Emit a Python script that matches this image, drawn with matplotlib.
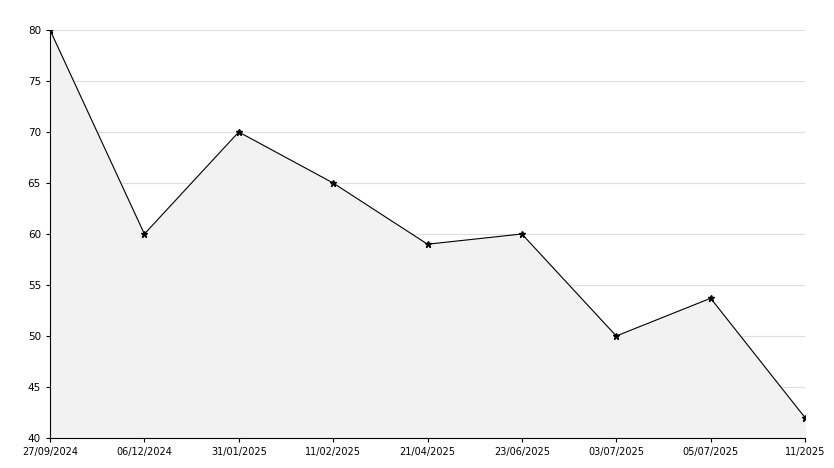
import matplotlib
matplotlib.use("Agg")
import matplotlib.pyplot as plt

dates = ["27/09/2024", "06/12/2024", "31/01/2025", "11/02/2025", "21/04/2025",
         "23/06/2025", "03/07/2025", "05/07/2025", "11/2025"]
values = [80, 60, 70, 65, 59, 60, 50, 53.7, 42]

fig = plt.figure(figsize=(8.34, 4.68), dpi=100)
ax = fig.add_axes([50 / 834, 30 / 468, 755 / 834, 408 / 468])
ax.set_ylim(40, 80)
# y axis runs bottom-up, axes spans pixel rows 30..438
ax.set_position([50 / 834, 1 - 438 / 468, 755 / 834, 408 / 468])

x = list(range(len(dates)))
ax.fill_between(x, values, 40, color="#f2f2f2", zorder=1)
ax.plot(x, values, color="black", lw=0.8, marker="*", ms=5, zorder=3)

ax.set_xlim(0, len(dates) - 1)
ax.set_xticks(x)
ax.set_xticklabels(dates, fontsize=7)
ax.set_yticks(range(40, 81, 5))
ax.tick_params(axis="y", labelsize=7.5, length=3)
ax.tick_params(axis="x", length=3)
ax.yaxis.grid(True, color="#dddddd", lw=0.8, zorder=0)
ax.set_axisbelow(True)
for s in ["top", "right"]:
    ax.spines[s].set_visible(False)
ax.spines["left"].set_linewidth(0.8)
ax.spines["bottom"].set_linewidth(0.8)

fig.savefig("out.png", dpi=100)
